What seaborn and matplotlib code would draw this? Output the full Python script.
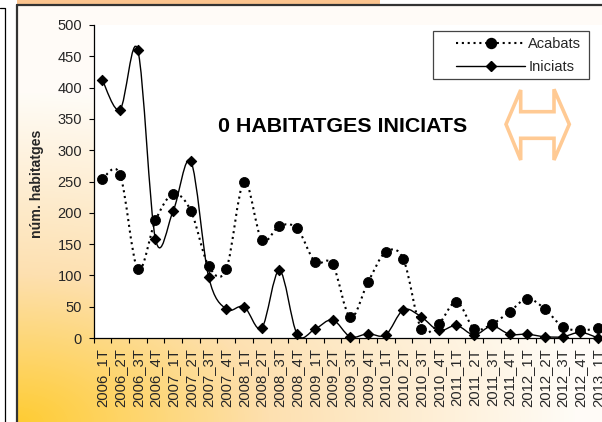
import numpy as np
import matplotlib
matplotlib.use("Agg")
import matplotlib.pyplot as plt
import seaborn as sns
from matplotlib.path import Path
from matplotlib.patches import PathPatch, Polygon, Rectangle
from matplotlib.lines import Line2D
from matplotlib.colors import LinearSegmentedColormap

# ---------------- data ----------------
categories = ["2006_1T", "2006_2T", "2006_3T", "2006_4T",
              "2007_1T", "2007_2T", "2007_3T", "2007_4T",
              "2008_1T", "2008_2T", "2008_3T", "2008_4T",
              "2009_1T", "2009_2T", "2009_3T", "2009_4T",
              "2010_1T", "2010_2T", "2010_3T", "2010_4T",
              "2011_1T", "2011_2T", "2011_3T", "2011_4T",
              "2012_1T", "2012_2T", "2012_3T", "2012_4T",
              "2013_1T"]
acabats = [254, 261, 110, 188, 230, 203, 115, 110, 250, 157, 179, 175,
           122, 118, 33, 89, 137, 126, 15, 23, 58, 15, 22, 42,
           63, 46, 18, 12, 16]
iniciats = [412, 365, 460, 158, 203, 282, 98, 46, 50, 16, 108, 6,
            14, 29, 2, 7, 5, 45, 34, 12, 20, 5, 19, 6,
            6, 2, 2, 9, 0]
yticks = [0, 50, 100, 150, 200, 250, 300, 350, 400, 450, 500]
series_names = ["Acabats", "Iniciats"]
ylabel = "núm. habitatges"
annotation = "0 HABITATGES INICIATS"

# ---------------- style ----------------
sns.set_style("white")
plt.rcParams["font.family"] = ["Liberation Sans", "DejaVu Sans"]

W, H = 602, 422
fig = plt.figure(figsize=(W / 100, H / 100), dpi=100)
fig.patch.set_facecolor("white")

def fx(px):
    return px / W

def fy(py):
    return 1 - py / H

# background gradient inside chart frame
bx0, by0 = 17, 5
bg = fig.add_axes([fx(bx0), 0, 1 - fx(bx0), fy(by0)], zorder=-10)
gw, gh = W - bx0, H - by0
xx, yy = np.meshgrid(np.arange(gw), np.arange(gh))
t = np.sqrt((xx / 560.0) ** 2 + ((gh - yy) / 330.0) ** 2)
t = np.clip(t, 0, 1)
cmap = LinearSegmentedColormap.from_list(
    "g", [(0, "#FFCC33"), (0.45, "#FDE0B0"), (1, "#FFFCF7")])
bg.imshow(t, cmap=cmap, aspect="auto", vmin=0, vmax=1,
          extent=[0, 1, 0, 1], origin="upper")
bg.set_axis_off()

# frame lines
fig.add_artist(Rectangle((fx(17), fy(4)), fx(380 - 17), 4 / H,
                         transform=fig.transFigure, color="#FCC48E", lw=0))
fig.add_artist(Line2D([fx(16.5), 1], [fy(4.5), fy(4.5)],
                      transform=fig.transFigure, color="#333333", lw=1.6))
fig.add_artist(Line2D([fx(16.5), fx(16.5)], [0, fy(4.5)],
                      transform=fig.transFigure, color="#333333", lw=1.6))
fig.add_artist(Line2D([0, fx(5), fx(5)], [fy(8), fy(8), 0],
                      transform=fig.transFigure, color="black", lw=0.9))

# main axes
ax_l, ax_r, ax_t, ax_b = 93.5, 607.0, 25.0, 338.0
ax = fig.add_axes([fx(ax_l), fy(ax_b), fx(ax_r - ax_l), (ax_b - ax_t) / H])
ax.set_facecolor("white")

xs = np.arange(len(categories))

def smooth_path(x, y):
    pts = np.column_stack([x, y]).astype(float)
    n = len(pts)
    verts = [pts[0]]
    codes = [Path.MOVETO]
    for i in range(n - 1):
        p0 = pts[i - 1] if i > 0 else pts[i]
        p1 = pts[i]
        p2 = pts[i + 1]
        p3 = pts[i + 2] if i + 2 < n else pts[i + 1]
        verts += [p1 + (p2 - p0) / 6.0, p2 - (p3 - p1) / 6.0, p2]
        codes += [Path.CURVE4] * 3
    return Path(verts, codes)

dot_style = (0, (1, 1.8))
ax.add_patch(PathPatch(smooth_path(xs, acabats), fill=False, ec="black",
                       lw=1.5, ls=dot_style, zorder=2))
ax.add_patch(PathPatch(smooth_path(xs, iniciats), fill=False, ec="black",
                       lw=1.0, ls="-", zorder=2))

sns.scatterplot(x=xs, y=acabats, marker="o", s=52, color="black",
                edgecolor="black", ax=ax, zorder=3, clip_on=False)
sns.scatterplot(x=xs, y=iniciats, marker="D", s=27, color="black",
                edgecolor="black", linewidth=0.8, ax=ax, zorder=3, clip_on=False)

ax.set_xlim(-0.5, len(categories) - 0.5)
ax.set_ylim(0, 500)
ax.set_yticks(yticks)
ax.set_yticklabels([str(v) for v in yticks], fontsize=10.5)
ax.set_xticks(xs)
ax.set_xticklabels(categories, rotation=90, fontsize=10.7)
ax.set_xticks(np.arange(-0.5, len(categories), 1.0), minor=True)
ax.tick_params(axis="x", which="major", length=0, pad=7.2)
ax.tick_params(axis="x", which="minor", length=3.6, width=0.8,
               direction="out", color="black", bottom=True)
ax.tick_params(axis="y", which="major", length=3.6, width=0.8,
               direction="out", color="black", pad=4.6, left=True)
for s in ["top", "right"]:
    ax.spines[s].set_visible(False)
for s in ["left", "bottom"]:
    ax.spines[s].set_color("black")
    ax.spines[s].set_linewidth(0.9)

ax.set_xlabel("")
ax.set_ylabel(ylabel, fontsize=10.2, fontweight="bold")
ax.yaxis.set_label_coords(-(ax_l - 43.5) / (ax_r - ax_l), (ax_b - 184) / (ax_b - ax_t))

# annotation text
fig.text(fx(342.5), fy(132), annotation, ha="center", va="baseline",
         fontsize=15.4, fontweight="bold", color="black")

# decorative double arrow
arrow_px = [(506, 124.3), (520.7, 90), (520.7, 111.7), (554, 111.7),
            (554, 89.3), (569.3, 124.3), (554, 160), (554, 138.3),
            (520.7, 138.3), (520.7, 160)]
fig.add_artist(Polygon([(fx(a), fy(b)) for a, b in arrow_px], closed=True,
                       transform=fig.transFigure, fill=False,
                       ec="#FFCA94", lw=2.6, joinstyle="miter"))

# legend box (drawn in the axes, under the legend)
ax.add_patch(Rectangle((fx(433), fy(79)), fx(589 - 433), (79 - 31) / H,
                       transform=fig.transFigure, fc="white",
                       ec="#444444", lw=0.9, zorder=4, clip_on=False))
handles = [
    Line2D([], [], color="black", ls=dot_style, lw=1.5, marker="o", ms=7.2),
    Line2D([], [], color="black", ls="-", lw=1.0, marker="D", ms=5.2),
]
leg = ax.legend(handles, series_names, loc="center left",
                bbox_to_anchor=(fx(456), fy(55.5)), bbox_transform=fig.transFigure,
                borderaxespad=0, borderpad=0, fontsize=10.5, frameon=False,
                handlelength=4.75, handletextpad=0.2, labelspacing=0.65)
leg.set_zorder(6)

fig.savefig("out.png", dpi=100)
